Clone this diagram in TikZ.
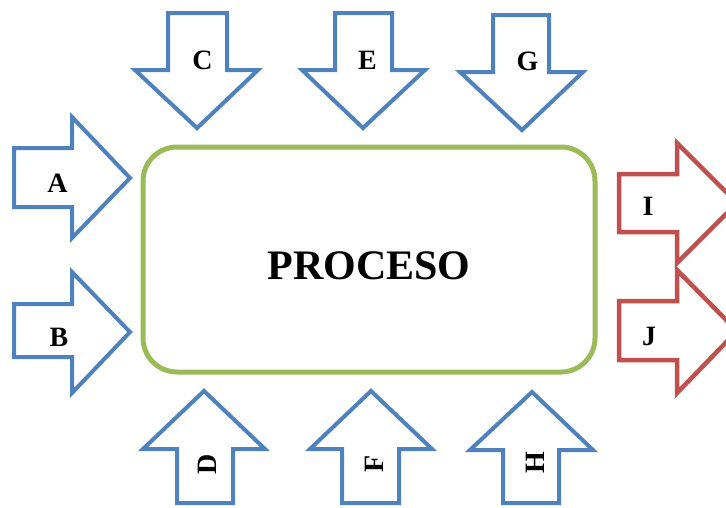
\documentclass[tikz,border=0pt]{standalone}
\usepackage{fontspec}
\setmainfont{Liberation Serif}
\definecolor{inblue}{HTML}{4F81BD}
\definecolor{procgreen}{HTML}{9BBB59}
\definecolor{outred}{HTML}{C0504D}
\begin{document}
\begin{tikzpicture}[x=1pt,y=-1pt,
  inarrow/.style={draw=inblue,line width=4,fill=white},
  outarrow/.style={draw=outred,line width=4.5,fill=white},
  lbl/.style={font=\fontsize{28}{28}\selectfont\bfseries,inner sep=0pt,anchor=center}]
\useasboundingbox (0,0) rectangle (726,507);
\clip (0,0) rectangle (726,507);
\fill[white] (0,0) rectangle (726,507);
% process box
\node[draw=procgreen,line width=5,rounded corners=34,minimum width=452,minimum height=225,inner sep=0pt] (proc) at (369,259.5) {};
\node[font=\fontsize{42}{42}\selectfont\bfseries,inner sep=0pt] (proct) at (369,265.5) {PROCESO};
% left inputs
\draw[inarrow] (14,148) -- (72,148) -- (72,117) -- (130,178) -- (72,238) -- (72,207) -- (14,207) -- cycle;
\draw[inarrow] (14,304) -- (72,304) -- (72,272) -- (130,332) -- (72,393) -- (72,357) -- (14,357) -- cycle;
% top inputs
\draw[inarrow] (168,13) -- (227,13) -- (227,70) -- (258,70) -- (197,128) -- (135,70) -- (168,70) -- cycle;
\draw[inarrow] (335,13) -- (392,13) -- (392,70) -- (425,70) -- (363,128) -- (302,70) -- (335,70) -- cycle;
\draw[inarrow] (493,15) -- (549,15) -- (549,72) -- (583,72) -- (522,130) -- (460,72) -- (493,72) -- cycle;
% bottom inputs
\draw[inarrow] (177,503) -- (177,449) -- (143,449) -- (204,391) -- (265,449) -- (233,449) -- (233,503) -- cycle;
\draw[inarrow] (342,503) -- (342,449) -- (310,449) -- (371,391) -- (432,449) -- (399,449) -- (399,503) -- cycle;
\draw[inarrow] (503,503) -- (503,450) -- (470,450) -- (532,392) -- (593,450) -- (559,450) -- (559,503) -- cycle;
% outputs
\draw[outarrow] (619,174) -- (677,174) -- (677,143) -- (737,203) -- (677,263) -- (677,232) -- (619,232) -- cycle;
\draw[outarrow] (619,301) -- (677,301) -- (677,270) -- (737,331) -- (677,393) -- (677,360) -- (619,360) -- cycle;
% labels
\node[lbl] (la) at (57.5,183) {A};
\node[lbl] (lb) at (59,337) {B};
\node[lbl] (lc) at (202.5,60) {C};
\node[lbl] (le) at (367.5,60) {E};
\node[lbl] (lg) at (527.5,61) {G};
\node[lbl] (li) at (648,206) {I};
\node[lbl] (lj) at (649,336) {J};
\node[lbl,rotate=90] (ld) at (207.5,464) {D};
\node[lbl,rotate=90] (lf) at (374,464) {F};
\node[lbl,rotate=90] (lh) at (535,463) {H};
\end{tikzpicture}
\end{document}
